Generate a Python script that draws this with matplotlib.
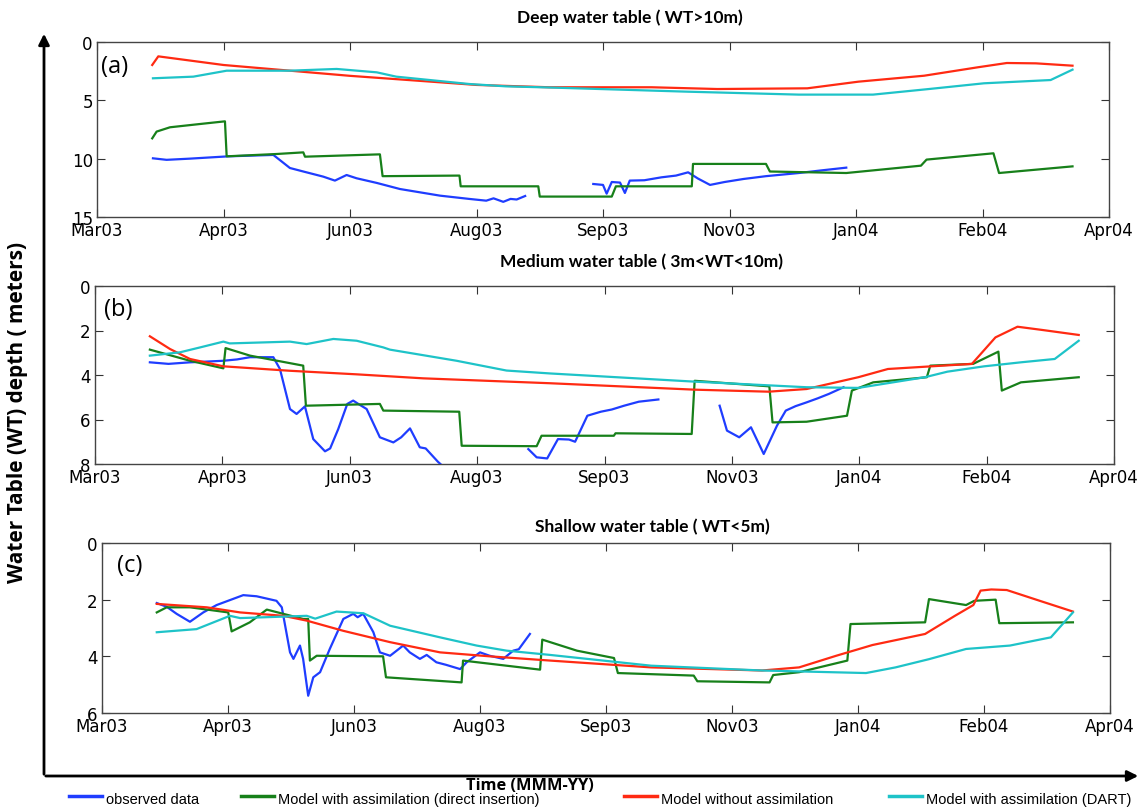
import numpy as np
import matplotlib
matplotlib.use("Agg")
import matplotlib.pyplot as plt
import matplotlib.dates as mdates
from matplotlib.lines import Line2D
from matplotlib.patches import FancyArrowPatch

# ---- time axis: day offsets from the start date ----
start_date = np.datetime64("2003-03-01")
span_days = 416
tick_step_days = 52

# ---- (a) deep water table ----
obs_a1_d = [23, 28.6, 38, 54, 72.5, 79.3, 84.8, 93, 97.8, 102.6, 106.7, 115, 124.5, 141, 153, 160, 163, 167, 170, 172.5, 176]
obs_a1_v = [9.97, 10.1, 10.0, 9.8, 9.68, 10.8, 11.1, 11.54, 11.88, 11.4, 11.68, 12.08, 12.6, 13.17, 13.45, 13.6, 13.4, 13.7, 13.45, 13.5, 13.2]
obs_a2_d = [204, 208, 209.5, 211.6, 215, 217, 219, 225, 232, 238, 243, 247, 252, 258, 265.8, 275, 288.5, 298, 308]
obs_a2_v = [12.17, 12.25, 13.0, 12.0, 12.05, 12.94, 11.88, 11.85, 11.6, 11.45, 11.17, 11.7, 12.25, 12.0, 11.74, 11.5, 11.23, 11.0, 10.77]
di_a_d = [22.7, 24.5, 30, 42.3, 52.6, 53.3, 73.8, 84.8, 85.5, 116.3, 117.4, 149, 149.5, 181.4, 182, 211.6, 213.3,
          244.5, 245, 275, 276.6, 308, 338.7, 341, 368.5, 370.8, 401]
di_a_v = [8.26, 7.68, 7.31, 7.03, 6.8, 9.8, 9.6, 9.46, 9.83, 9.63, 11.5, 11.45, 12.37, 12.37, 13.25, 13.25, 12.37,
          12.37, 10.45, 10.45, 11.1, 11.23, 10.6, 10.08, 9.54, 11.23, 10.66]
noda_a_d = [22.7, 25.2, 52, 104, 156, 186, 228, 255, 292, 313, 340, 362, 374, 386, 401]
noda_a_v = [1.97, 1.23, 1.97, 2.9, 3.68, 3.88, 3.88, 4.03, 3.97, 3.4, 2.89, 2.17, 1.8, 1.83, 2.03]
dart_a_d = [23, 39.6, 53.3, 79, 98.5, 115, 123, 153, 168, 186, 243, 288.5, 319, 342, 364.6, 392, 401]
dart_a_v = [3.11, 2.97, 2.46, 2.46, 2.31, 2.6, 2.97, 3.6, 3.8, 3.9, 4.26, 4.51, 4.51, 4.03, 3.54, 3.26, 2.37]

# ---- (b) medium water table ----
obs_b1_d = [22.4, 30, 38.8, 45, 52.4, 58, 63.3, 72.8, 75.5, 79.6, 82.3, 85.7, 89.1, 93.9, 96, 99.3, 103, 105.4,
            107.5, 110.9, 116.3, 121.8, 125, 128.6, 132.6, 135, 140, 142]
obs_b1_v = [3.43, 3.5, 3.43, 3.4, 3.36, 3.3, 3.2, 3.2, 3.73, 5.53, 5.75, 5.41, 6.88, 7.43, 7.3, 6.43, 5.3, 5.15,
            5.3, 5.53, 6.8, 7.03, 6.8, 6.4, 7.25, 7.3, 7.9, 8.1]
obs_b2_d = [176.9, 180.3, 184.6, 189, 193.5, 196, 201, 206.5, 211, 216, 222, 230]
obs_b2_v = [7.33, 7.7, 7.75, 6.88, 6.9, 7.0, 5.83, 5.65, 5.55, 5.38, 5.2, 5.1]
obs_b3_d = [255, 258, 263, 267.8, 273, 278.4, 282, 286, 290.5, 295, 299.6, 305.6]
obs_b3_v = [5.38, 6.5, 6.8, 6.35, 7.55, 6.28, 5.6, 5.4, 5.23, 5.05, 4.85, 4.55]
di_b_d = [22.4, 38.8, 52.4, 53.3, 63.3, 85, 86.1, 116.3, 117.7, 148.7, 149.7, 180.3, 182.3, 211.8, 212.5, 243.6,
          244.8, 275.3, 276.6, 290.5, 307, 309, 317.7, 339.6, 341, 358.5, 368.8, 370.2, 378, 401.6]
di_b_v = [2.86, 3.36, 3.7, 2.79, 3.13, 3.58, 5.38, 5.3, 5.6, 5.65, 7.18, 7.2, 6.73, 6.73, 6.62, 6.65,
          4.26, 4.51, 6.13, 6.1, 5.83, 4.7, 4.33, 4.1, 3.58, 3.5, 2.95, 4.7, 4.33, 4.1]
noda_b_d = [22.4, 30.6, 38.8, 52.4, 79.6, 106.8, 134, 185.7, 245, 275, 290.5, 311.6, 323.7, 340, 358, 367.6, 376.6, 387, 401.6]
noda_b_v = [2.26, 2.83, 3.28, 3.61, 3.81, 3.97, 4.15, 4.37, 4.66, 4.75, 4.63, 4.1, 3.73, 3.62, 3.5, 2.31, 1.83, 1.98, 2.2]
dart_b_d = [22.4, 34.7, 42.9, 52.4, 55, 79.6, 86.4, 97.3, 106.8, 117.7, 120.4, 147.6, 168, 185.7, 245, 290.5,
            311.6, 338.8, 348, 363, 378, 391.8, 401.6]
dart_b_v = [3.13, 2.98, 2.76, 2.5, 2.58, 2.5, 2.61, 2.38, 2.46, 2.76, 2.86, 3.36, 3.8, 3.93, 4.3, 4.55,
            4.58, 4.1, 3.85, 3.61, 3.43, 3.28, 2.46]

# ---- (c) shallow water table ----
obs_c_d = [22.6, 26.7, 30.8, 36.3, 41.8, 47.3, 58.3, 63.8, 72, 74.2, 77.6, 79, 81.7, 83, 85.1, 87.2, 90, 94, 99.6,
           103.7, 105.5, 107.8, 112, 114.7, 118.9, 124.3, 127, 131.2, 134, 138, 142, 147.8, 150.5, 156, 160, 165.6,
           169.7, 172, 176.6]
obs_c_v = [2.12, 2.25, 2.5, 2.78, 2.45, 2.19, 1.84, 1.88, 2.04, 2.27, 3.86, 4.09, 3.62, 4.09, 5.39, 4.74, 4.56, 3.74, 2.68,
           2.5, 2.62, 2.5, 3.15, 3.86, 3.98, 3.62, 3.86, 4.09, 3.95, 4.21, 4.3, 4.45, 4.21, 3.86, 3.98, 4.09,
           3.8, 3.75, 3.21]
di_c_d = [22.6, 26.7, 36.3, 52.1, 53.5, 61, 68, 83, 85.1, 85.8, 88.6, 116, 117.2, 148.4, 149, 180.8, 181.7, 196,
          211.3, 212.9, 244.2, 245.7, 275.5, 277, 287.7, 307.6, 308.9, 339.7, 341.3, 356.6, 360, 368.8, 370.3, 400.7]
di_c_v = [2.45, 2.27, 2.27, 2.45, 3.12, 2.8, 2.35, 2.68, 2.68, 4.15, 3.98, 4.0, 4.74, 4.92, 4.15, 4.47, 3.41, 3.8,
          4.06, 4.59, 4.68, 4.88, 4.92, 4.66, 4.56, 4.15, 2.86, 2.8, 1.98, 2.19, 2.04, 2.0, 2.83, 2.8]
noda_c_d = [22.6, 43.2, 57, 74.8, 84.5, 99.6, 118.9, 139.5, 160, 185, 226.6, 272.4, 287.7, 303, 318, 339.7, 352,
            359.6, 362.6, 367, 373.4, 387, 400.7]
noda_c_v = [2.15, 2.27, 2.45, 2.57, 2.74, 3.1, 3.5, 3.86, 4.0, 4.15, 4.39, 4.5, 4.39, 3.98, 3.6, 3.21, 2.57,
            2.19, 1.68, 1.64, 1.66, 2.04, 2.42]
dart_c_d = [22.6, 39, 52.8, 57, 84.5, 88, 96.8, 107.9, 118.9, 139.5, 154.6, 167, 184.9, 226.6, 272.4, 315.3,
            327.5, 341.3, 356.6, 374.7, 391.6, 400.7]
dart_c_v = [3.15, 3.04, 2.57, 2.65, 2.57, 2.67, 2.42, 2.48, 2.92, 3.33, 3.62, 3.8, 3.95, 4.33, 4.5, 4.59,
            4.39, 4.1, 3.74, 3.62, 3.33, 2.45]

titles = ["Deep water table ( WT>10m)", "Medium water table ( 3m<WT<10m)", "Shallow water table ( WT<5m)"]
panel_tags = ["(a)", "(b)", "(c)"]
y_limits = [15, 8, 6]
y_ticks = [[0, 5, 10, 15], [0, 2, 4, 6, 8], [0, 2, 4, 6]]
legend_names = ["observed data", "Model with assimilation (direct insertion)",
                "Model without assimilation", "Model with assimilation (DART)"]

C_OBS = "#1f3dff"
C_DI = "#17801a"
C_NODA = "#ff2a12"
C_DART = "#1ec3c8"

HEAD_FONT = ["Lato", "DejaVu Sans"]
LABEL_FONT = ["Open Sans", "DejaVu Sans"]

def to_dates(days):
    return start_date + (np.asarray(days) * 24 * 3600).astype("timedelta64[s]")

fig = plt.figure(figsize=(11.44, 8.12), dpi=100)
W, H = 1144, 812

def px_axes(l, t, r, b):
    return fig.add_axes([l / W, 1 - b / H, (r - l) / W, (b - t) / H])

boxes = [(97, 43, 1109, 218), (95, 287, 1114, 465), (102, 544, 1110, 714)]
panels = [
    dict(obs=[(obs_a1_d, obs_a1_v), (obs_a2_d, obs_a2_v)], di=(di_a_d, di_a_v), noda=(noda_a_d, noda_a_v), dart=(dart_a_d, dart_a_v)),
    dict(obs=[(obs_b1_d, obs_b1_v), (obs_b2_d, obs_b2_v), (obs_b3_d, obs_b3_v)], di=(di_b_d, di_b_v), noda=(noda_b_d, noda_b_v), dart=(dart_b_d, dart_b_v)),
    dict(obs=[(obs_c_d, obs_c_v)], di=(di_c_d, di_c_v), noda=(noda_c_d, noda_c_v), dart=(dart_c_d, dart_c_v)),
]
title_pos = [(630, 18), (642, 262), (652, 527)]
tag_pos = [(115, 67), (118, 310), (130, 566)]

lw = 1.6
for i, (box, p) in enumerate(zip(boxes, panels)):
    ax = px_axes(*box)
    for d, v in p["obs"]:
        ax.plot(to_dates(d), v, color=C_OBS, lw=lw, zorder=3)
    ax.plot(to_dates(p["di"][0]), p["di"][1], color=C_DI, lw=lw, zorder=4)
    ax.plot(to_dates(p["noda"][0]), p["noda"][1], color=C_NODA, lw=lw, zorder=5)
    ax.plot(to_dates(p["dart"][0]), p["dart"][1], color=C_DART, lw=lw, zorder=5)

    ax.set_xlim(to_dates([0])[0], to_dates([span_days])[0])
    ax.set_xticks(to_dates(np.arange(0, span_days + 1, tick_step_days)))
    ax.xaxis.set_major_formatter(mdates.DateFormatter("%b%y"))
    ax.set_ylim(y_limits[i], 0)
    ax.set_yticks(y_ticks[i])
    ax.tick_params(direction="in", top=True, right=True, length=6, width=0.8,
                   labelsize=12, pad=3, colors="#333333", labelcolor="black")
    for s in ax.spines.values():
        s.set_color("#444444")
        s.set_linewidth(1.0)
    fig.text(title_pos[i][0] / W, 1 - title_pos[i][1] / H, titles[i], ha="center", va="center",
             fontsize=12.5, fontweight="bold", family=HEAD_FONT)
    fig.text(tag_pos[i][0] / W, 1 - tag_pos[i][1] / H, panel_tags[i], ha="center", va="center",
             fontsize=17, family=LABEL_FONT)

# axis titles
fig.text(18 / W, 1 - 412 / H, "Water Table (WT) depth ( meters)", rotation=90, ha="center", va="center",
         fontsize=15, fontweight="bold", family=LABEL_FONT)
fig.text(530 / W, 1 - 786 / H, "Time (MMM-YY)", ha="center", va="center",
         fontsize=11.8, fontweight="bold", family=LABEL_FONT)

# framing arrows
fig.add_artist(FancyArrowPatch((44 / W, 1 - 778 / H), (44 / W, 1 - 32 / H), transform=fig.transFigure,
                               arrowstyle="-|>", mutation_scale=16, lw=2, color="black"))
fig.add_artist(FancyArrowPatch((43 / W, 1 - 777 / H), (1141 / W, 1 - 777 / H), transform=fig.transFigure,
                               arrowstyle="-|>", mutation_scale=16, lw=2, color="black"))

# legend row
legend_colors = [C_OBS, C_DI, C_NODA, C_DART]
legend_x = [69, 241, 624, 889]
for name, c, x0 in zip(legend_names, legend_colors, legend_x):
    fig.add_artist(Line2D([x0 / W, (x0 + 33) / W], [1 - 797 / H] * 2, transform=fig.transFigure,
                          color=c, lw=2.5))
    fig.text((x0 + 37) / W, 1 - 800 / H, name, ha="left", va="center", fontsize=10.5,
             family=["Liberation Sans", "DejaVu Sans"])

fig.savefig("out.png", dpi=100)
